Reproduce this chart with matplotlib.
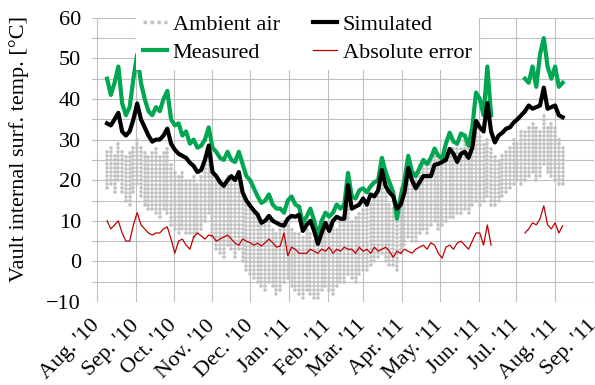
#!/usr/bin/env python3

import numpy as np
import pandas as pd
import matplotlib
matplotlib.use('Agg')
import matplotlib.pyplot as plt
import matplotlib.transforms as mtransforms
from matplotlib.lines import Line2D
from matplotlib.ticker import MultipleLocator

nan = np.nan

# one reading every 3 days, from 9 Aug 2010 to 7 Aug 2011
first_day = '2010-08-09'
step = '3D'

# ambient air: lower and upper edge of the cloud of hourly readings
ambient_hi = [28, 29, 27, 30, 28,
              26, 27, 29, 31, 29, 27, 26,
              27, 28, 26, 27, 28,
              24, 22, 21, 22, 20,
              20, 21, 19, 21,
              25, 29, 22,
              21, 20, 18, 21, 20, 19, 20, 17,
              15, 14, 13, 12, 10,
              9, 10, 8, 7, 8,
              10, 9, 8, 7,
              7, 6, 8, 7, 5, 6,
              8, 9, 10, 9, 8, 10,
              11, 14, 10, 11, 12, 13,
              14, 15, 16, 18, 19, 17, 15,
              14, 12,
              18, 21, 23, 21, 22,
              24, 25, 24, 26, 27, 25, 26, 27, 28,
              28, 29, 28, 30, 29, 31, 33, 31, 29,
              31, 28,
              26, 25, 27, 28,
              29, 31, 30, 32,
              32, 33, 34, 33, 32, 36, 33, 34, 33, 31, 29]
ambient_lo = [18, 19, 17, 20, 17,
              15, 14, 17, 19, 16, 14, 13,
              13, 12, 11, 13, 12,
              9, 8, 7, 8, 7,
              7, 6, 7, 8,
              10, 12, 6,
              3, 2, 1, 4, 3, 1, 3, 0,
              -2, -3, -4, -5, -6,
              -7, -5, -6, -8, -7,
              -5, -4, -6, -7,
              -8, -9, -7, -8, -9, -9,
              -7, -6, -7, -8, -6, -5,
              -5, -3, -4, -5, -3, -2,
              -2, -1, 0, 1, 2, 0, -1,
              -1, -2,
              2, 4, 6, 5, 5,
              7, 8, 7, 9, 10, 8, 9, 10, 11,
              11, 12, 12, 13, 12, 14, 15, 14, 15,
              16, 14,
              14, 15, 16, 17,
              18, 19, 20, 19,
              20, 21, 22, 20, 21, 24, 22, 21, 20, 19, 19]

measured = [45, 41, 44, 48, 39, 36, 38, 45, 51, 44,
            40, 37, 36, 38, 37, 40, 42, 35, 33.5, 34,
            31, 32, 29, 30, 28, 28.5, 30, 33, 28, 27,
            25.5, 25, 27, 25, 24.5, 27, 24, 21, 20, 18,
            16, 14.4, 15, 16.5, 14, 13, 13, 12, 15, 16,
            14, 13.5, 9.5, 11, 13, 10, 6.3, 10, 12, 11,
            12, 14, 13, 14, 21.8, 16, 15.5, 17.5, 18, 17,
            18.5, 19.5, 20, 25.5, 22, 19.5, 17, 10.5, 16, 20,
            26, 22, 21, 23, 25, 24, 25.5, 27.8, 26, 25.3,
            29, 31.7, 29.5, 29, 31.5, 31, 28.5, 33, 41.6, 40,
            36, 48, 36, nan, nan, nan, nan, nan, nan, nan,
            nan, 45, 44, 48, 43, 51, 55, 48, 45, 48,
            43, 44]

simulated = [34, 33.5, 35, 36.6, 32, 31, 32, 35, 38.9, 35,
             33, 31, 29.5, 30, 30, 31, 32.7, 29, 27.5, 26.5,
             26, 25.5, 24.3, 23.5, 22, 22.5, 25, 28.5, 22, 21,
             19.5, 18.6, 20, 21, 20, 22, 17, 15, 13.7, 12.5,
             11.5, 9.5, 10, 11.2, 10, 9.5, 9, 8.8, 10.5, 11.2,
             11, 11.5, 7.5, 9, 10, 7.5, 4.3, 7, 9.5, 7.5,
             10, 11, 10.5, 10.5, 18.8, 13, 13.5, 14, 15.5, 14,
             16.5, 16, 17.5, 22.5, 18.5, 17, 16, 13, 14, 17,
             23, 20, 18, 19.5, 21, 21, 21, 23.8, 24, 24.5,
             25, 27.7, 26.5, 24.5, 26.5, 27, 25.5, 28, 34.6, 33,
             32, 39, 32, 29.3, 31, 31.7, 32.7, 33, 34.2, 35,
             36, 37, 38.4, 37.6, 38, 38.4, 42.8, 37.6, 38, 38.4,
             36, 35.5]

abs_error = [10, 8, 9, 10, 7, 5, 5, 9, 12, 9,
             8, 7, 6.5, 7, 7, 8, 8.5, 5.5, 2, 5,
             5.5, 4, 3, 6, 7, 6.3, 5.5, 6.5, 6.3, 5,
             5.5, 6, 6.5, 5.5, 4.5, 4, 5.5, 5, 4.6, 4,
             4.5, 3.8, 4.6, 5.5, 4.6, 3.5, 3.8, 7, 1.4, 3.5,
             3, 2, 2, 2, 3, 2.5, 2, 3, 2.5, 3.5,
             2, 3, 2.5, 3.5, 3, 3, 2, 3.5, 2.5, 3,
             2, 3.5, 2.5, 3, 3.5, 2.5, 1, 2.5, 2, 3,
             2.5, 2, 3, 3.5, 4, 3, 4.6, 4, 2, 0.8,
             3.5, 4, 3, 4.5, 5, 4, 3, 5, 7, 7,
             4, 9, 4, nan, nan, nan, nan, nan, nan, nan,
             nan, 7, 8, 9.5, 9, 10.5, 13.7, 9, 8, 9.5,
             7, 8.8]

month_labels = ["Aug. '10", "Sep. '10", "Oct. '10", "Nov. '10", "Dec. '10",
                "Jan. '11", "Feb. '11", "Mar. '11", "Apr. '11", "May. '11",
                "Jun. '11", "Jul. '11", "Aug. '11", "Sep. '11"]


def main():
    plt.rcParams['font.family'] = ['Liberation Serif', 'DejaVu Serif']
    plt.rcParams['font.size'] = 16

    days = pd.date_range(first_day, periods=len(measured), freq=step)
    months = pd.date_range('2010-08-01', periods=len(month_labels), freq='MS')

    fig = plt.figure(figsize=(5.95, 3.85), dpi=100)
    ax = fig.add_axes([92 / 595, 1 - 302 / 385, 502 / 595, 284.2 / 385])

    amb = ax.vlines(days, ambient_lo, ambient_hi, colors='#c0c0c0',
                    linestyles=(0, (0.01, 1.1)), lw=2.6, zorder=2)
    amb.set_capstyle('round')
    meas, = ax.plot(days, measured, color='#00a651', lw=3, zorder=3)
    sim, = ax.plot(days, simulated, color='black', lw=3, zorder=3.5)
    err, = ax.plot(days, abs_error, color='#c00000', lw=0.9, zorder=4)

    ax.set_xlim(pd.Timestamp('2010-07-28'), months[-1])
    ax.set_ylim(-10, 60)

    ax.set_xticks(months)
    ax.set_xticklabels(month_labels, rotation=45, ha='right', va='center',
                       rotation_mode='anchor')
    # nudge the slanted labels so the last one stays inside the figure
    shift = mtransforms.ScaledTranslation(-3 / 100, 0, fig.dpi_scale_trans)
    for lab in ax.get_xticklabels():
        lab.set_transform(lab.get_transform() + shift)
    ax.set_yticks(range(-10, 61, 10))
    ax.yaxis.set_minor_locator(MultipleLocator(5))
    ax.tick_params(which='both', length=0)
    ax.tick_params(axis='x', pad=15)
    ax.tick_params(axis='y', pad=8)

    ax.grid(axis='y', which='both', color='#bfbfbf', lw=0.8)
    ax.grid(axis='x', which='major', color='#bfbfbf', lw=0.8)
    ax.set_axisbelow(True)
    for s in ax.spines.values():
        s.set_visible(False)

    ax.set_ylabel('Vault internal surf. temp. [°C]')
    ax.yaxis.set_label_coords(-0.125, 0.54)

    # dotted key for the ambient cloud
    amb_key = Line2D([], [], color='#c0c0c0', lw=2.5, ls=(0, (1, 1)))

    ax.legend([amb_key, meas, sim, err],
              ['Ambient air', 'Measured', 'Simulated', 'Absolute error'],
              ncol=2, loc='upper left', bbox_to_anchor=(136 / 595, 0.98),
              bbox_transform=fig.transFigure, frameon=True, facecolor='white',
              edgecolor='none', framealpha=1, fancybox=False, borderpad=0.3,
              handlelength=1.1, handletextpad=0.25, columnspacing=1.5,
              labelspacing=0.35, borderaxespad=0)

    fig.savefig('out.png', dpi=100)


if __name__ == '__main__':
    main()
